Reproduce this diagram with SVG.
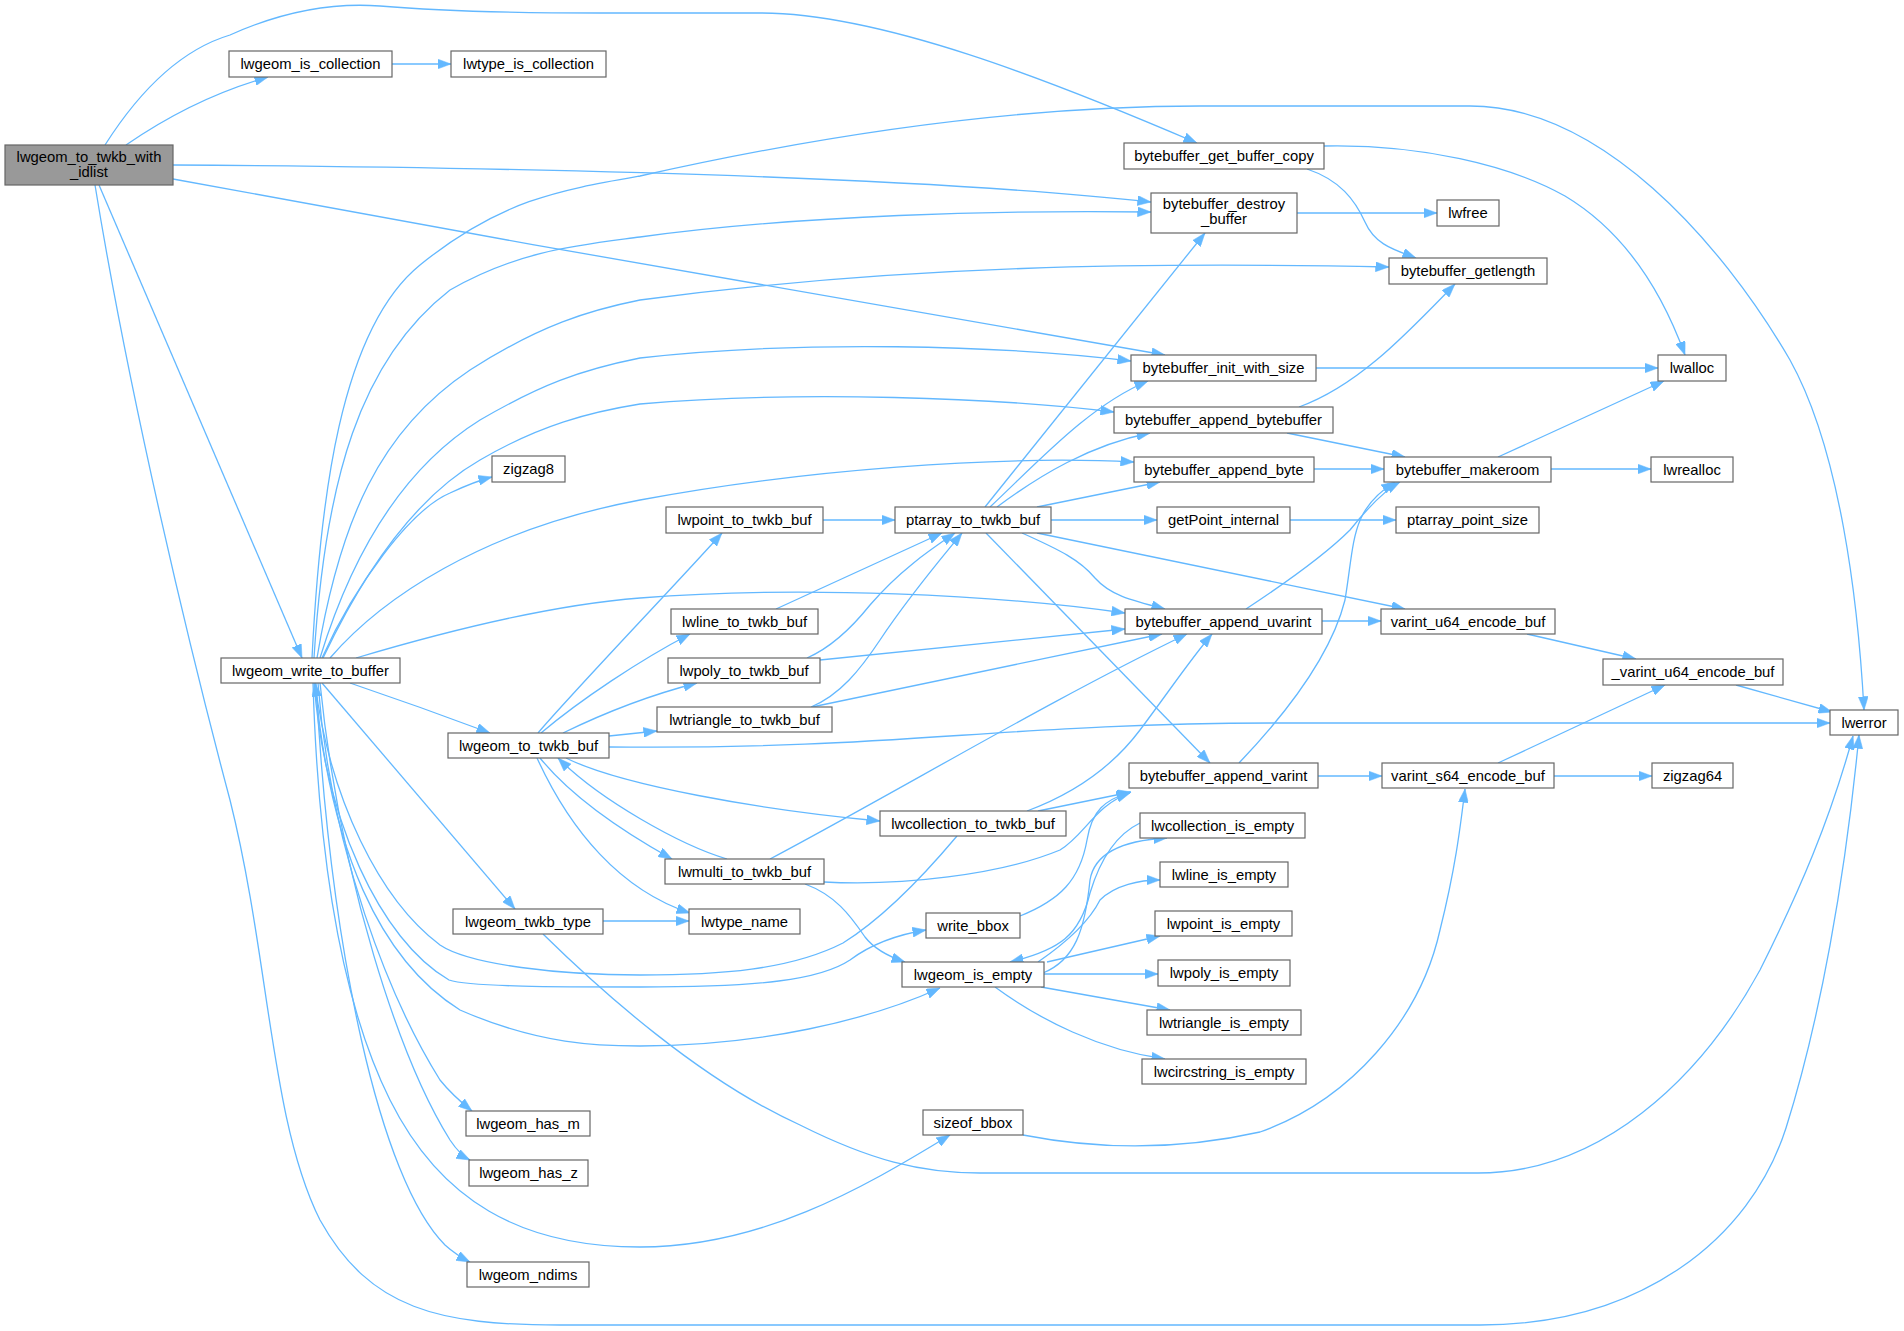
<svg xmlns="http://www.w3.org/2000/svg" width="1904" height="1331" viewBox="0 0 1904 1331">
<style>
.n rect{fill:#ffffff;stroke:#666666;stroke-width:1.2}
.n.main rect{fill:#999999}
.n text{font-family:"Liberation Sans",Arial,sans-serif;font-size:14.8px;fill:#000000;text-anchor:middle}
.e path{fill:none;stroke:#63b8ff;stroke-width:1.3;marker-end:url(#ah)}
</style>
<defs>
<marker id="ah" markerUnits="userSpaceOnUse" markerWidth="14" markerHeight="10" refX="13.5" refY="5" orient="auto">
<path d="M0,0 L13.5,5 L0,10 z" fill="#63b8ff" stroke="#63b8ff" stroke-width="0.5"/>
</marker>
</defs>
<rect width="1904" height="1331" fill="#ffffff"/>
<g id="edges" class="e">
<path d="M126,145 C165,118 215,92 268,77"/>
<path d="M392,64 L451,64"/>
<path d="M105,145 C140,90 180,50 230,35 C290,8 340,3 380,6 C450,12 520,13 600,13 L760,13 C880,13 1050,80 1197,143"/>
<path d="M173,165 C600,168 950,180 1151,202"/>
<path d="M173,179 C500,240 900,310 1165,355"/>
<path d="M99,185 L302,658"/>
<path d="M95,185 C130,400 190,650 230,800 C270,960 270,1120 320,1220 C370,1310 440,1325 560,1325 L1480,1325 C1640,1325 1750,1240 1786,1128 C1820,1020 1845,880 1859,735"/>
<path d="M543,934 C600,990 700,1080 800,1125 C870,1160 920,1173 980,1173 L1478,1173 C1600,1173 1700,1080 1760,970 C1800,890 1830,820 1853,736"/>
<path d="M312,658 C320,500 340,330 420,265 C500,200 560,190 640,176 C800,140 1000,106 1200,106 L1470,106 C1600,106 1720,240 1790,360 C1840,450 1858,600 1864,710"/>
<path d="M314,658 C325,480 360,360 450,290 C520,250 580,245 640,237 C800,215 1000,210 1151,212"/>
<path d="M317,658 C340,520 380,430 470,370 C540,325 590,310 640,300 C900,265 1150,262 1389,267"/>
<path d="M320,658 C350,560 400,470 480,420 C540,385 580,370 640,358 C800,340 1000,345 1131,361"/>
<path d="M323,658 C360,580 410,500 480,460 C540,425 590,412 640,404 C800,390 1000,398 1114,412"/>
<path d="M322,658 C355,585 410,510 450,493 C465,486 480,480 492,477"/>
<path d="M330,658 C380,600 480,530 640,500 C800,470 1000,455 1134,462"/>
<path d="M356,658 C450,630 550,605 640,598 C800,585 1000,595 1125,613"/>
<path d="M350,683 C400,700 450,718 490,733"/>
<path d="M322,683 L515,909"/>
<path d="M318,683 C330,850 390,1000 440,1080 C452,1095 462,1103 472,1111"/>
<path d="M320,683 C340,880 400,1060 450,1140 C458,1152 464,1157 470,1160"/>
<path d="M316,683 C330,950 380,1180 445,1245 C455,1254 462,1258 470,1262"/>
<path d="M313,683 C318,850 340,1000 390,1100 C440,1200 520,1247 640,1247 C760,1247 860,1190 950,1135"/>
<path d="M315,683 C330,850 380,960 460,1010 C540,1045 600,1046 640,1046 C760,1046 870,1020 940,988"/>
<path d="M314,683 C325,820 380,940 449,980 C470,987 560,987 640,987 C760,987 820,980 850,960 C870,945 895,935 926,930"/>
<path d="M957,836 C920,880 880,920 843,943 C790,970 720,975 640,975 C560,975 470,965 440,945 C380,900 330,800 315,683"/>
<path d="M538,733 C570,695 680,580 722,533"/>
<path d="M541,733 C580,700 640,660 690,634"/>
<path d="M563,733 C600,715 650,695 697,683"/>
<path d="M609,736 L657,731"/>
<path d="M609,747 C900,750 1000,723 1280,723 L1830,723"/>
<path d="M566,758 C620,785 760,810 880,821"/>
<path d="M727,859 C680,845 600,800 558,758"/>
<path d="M540,758 C570,795 620,830 672,859"/>
<path d="M537,758 C570,830 620,890 690,913"/>
<path d="M603,921 L689,921"/>
<path d="M823,520 L895,520"/>
<path d="M776,609 L942,533"/>
<path d="M807,658 C830,648 850,630 870,605 C900,570 930,550 955,533"/>
<path d="M811,707 C840,695 860,670 880,640 C910,595 940,560 962,533"/>
<path d="M820,660 L1125,629"/>
<path d="M812,707 L1162,634"/>
<path d="M985,507 L1205,233"/>
<path d="M990,507 C1040,460 1090,405 1148,381"/>
<path d="M997,507 C1040,475 1090,445 1150,433"/>
<path d="M1037,507 L1160,482"/>
<path d="M1051,520 L1157,520"/>
<path d="M1022,533 C1060,550 1080,560 1095,578 C1110,595 1130,600 1165,609"/>
<path d="M1037,533 L1405,609"/>
<path d="M986,533 L1210,763"/>
<path d="M1290,520 L1396,520"/>
<path d="M1314,469 L1384,469"/>
<path d="M1287,433 L1405,457"/>
<path d="M1299,407 C1360,385 1410,330 1455,284"/>
<path d="M1498,457 L1664,381"/>
<path d="M1551,469 L1651,469"/>
<path d="M1316,368 L1658,368"/>
<path d="M1324,146 C1420,144 1510,165 1565,196 C1630,235 1665,300 1685,355"/>
<path d="M1307,169 C1340,180 1355,200 1365,222 C1375,245 1395,250 1416,258"/>
<path d="M1297,213 L1437,213"/>
<path d="M1246,609 C1290,580 1330,550 1350,530 C1370,505 1385,490 1400,482"/>
<path d="M1322,621 L1381,621"/>
<path d="M1239,763 C1280,720 1330,660 1345,600 C1355,540 1350,510 1395,482"/>
<path d="M1318,776 L1382,776"/>
<path d="M1527,634 L1636,659"/>
<path d="M1736,685 L1832,712"/>
<path d="M1498,763 L1665,685"/>
<path d="M1554,776 L1652,776"/>
<path d="M1023,1135 C1100,1150 1180,1150 1260,1132 C1350,1100 1420,1020 1440,930 C1455,870 1460,830 1465,789"/>
<path d="M1020,916 C1060,900 1080,880 1087,840 C1092,810 1105,800 1130,792"/>
<path d="M1027,811 C1070,795 1110,770 1140,730 C1170,690 1190,660 1212,634"/>
<path d="M1038,811 L1131,792"/>
<path d="M770,859 C900,790 1050,700 1187,634"/>
<path d="M824,882 C900,886 1000,875 1060,850 C1085,835 1095,805 1130,793"/>
<path d="M805,884 C835,895 850,915 865,937 C875,950 890,957 905,962"/>
<path d="M1140,823 C1115,835 1100,860 1090,893 C1080,935 1060,950 1010,962"/>
<path d="M1043,973 C1075,960 1085,930 1090,880 C1095,850 1130,840 1167,838"/>
<path d="M1038,962 C1070,940 1090,920 1100,900 C1115,885 1140,880 1160,880"/>
<path d="M1047,962 L1160,936"/>
<path d="M1044,974 L1158,974"/>
<path d="M1041,987 L1170,1010"/>
<path d="M995,987 C1040,1020 1100,1050 1165,1059"/>
</g>
<g id="node0" class="n main"><rect x="5" y="145" width="168" height="40"/><text x="89" y="162">lwgeom_to_twkb_with</text><text x="89" y="177">_idlist</text></g>
<g id="node1" class="n"><rect x="229" y="51" width="163" height="26"/><text x="310.5" y="69">lwgeom_is_collection</text></g>
<g id="node2" class="n"><rect x="451" y="51" width="155" height="26"/><text x="528.5" y="69">lwtype_is_collection</text></g>
<g id="node3" class="n"><rect x="1124" y="143" width="200" height="26"/><text x="1224" y="161">bytebuffer_get_buffer_copy</text></g>
<g id="node4" class="n"><rect x="1151" y="193" width="146" height="40"/><text x="1224" y="209">bytebuffer_destroy</text><text x="1224" y="224">_buffer</text></g>
<g id="node5" class="n"><rect x="1437" y="200" width="62" height="26"/><text x="1468" y="218">lwfree</text></g>
<g id="node6" class="n"><rect x="1389" y="258" width="158" height="26"/><text x="1468" y="276">bytebuffer_getlength</text></g>
<g id="node7" class="n"><rect x="1131" y="355" width="185" height="26"/><text x="1223.5" y="373">bytebuffer_init_with_size</text></g>
<g id="node8" class="n"><rect x="1658" y="355" width="68" height="26"/><text x="1692" y="373">lwalloc</text></g>
<g id="node9" class="n"><rect x="1114" y="407" width="219" height="26"/><text x="1223.5" y="425">bytebuffer_append_bytebuffer</text></g>
<g id="node10" class="n"><rect x="492" y="456" width="73" height="26"/><text x="528.5" y="474">zigzag8</text></g>
<g id="node11" class="n"><rect x="1134" y="457" width="180" height="25"/><text x="1224" y="474.5">bytebuffer_append_byte</text></g>
<g id="node12" class="n"><rect x="1384" y="457" width="167" height="25"/><text x="1467.5" y="474.5">bytebuffer_makeroom</text></g>
<g id="node13" class="n"><rect x="1651" y="457" width="82" height="25"/><text x="1692" y="474.5">lwrealloc</text></g>
<g id="node14" class="n"><rect x="666" y="507" width="157" height="26"/><text x="744.5" y="525">lwpoint_to_twkb_buf</text></g>
<g id="node15" class="n"><rect x="895" y="507" width="156" height="26"/><text x="973" y="525">ptarray_to_twkb_buf</text></g>
<g id="node16" class="n"><rect x="1157" y="507" width="133" height="26"/><text x="1223.5" y="525">getPoint_internal</text></g>
<g id="node17" class="n"><rect x="1396" y="507" width="143" height="26"/><text x="1467.5" y="525">ptarray_point_size</text></g>
<g id="node18" class="n"><rect x="671" y="609" width="147" height="25"/><text x="744.5" y="626.5">lwline_to_twkb_buf</text></g>
<g id="node19" class="n"><rect x="1125" y="609" width="197" height="25"/><text x="1223.5" y="626.5">bytebuffer_append_uvarint</text></g>
<g id="node20" class="n"><rect x="1381" y="609" width="174" height="25"/><text x="1468" y="626.5">varint_u64_encode_buf</text></g>
<g id="node21" class="n"><rect x="221" y="658" width="179" height="25"/><text x="310.5" y="675.5">lwgeom_write_to_buffer</text></g>
<g id="node22" class="n"><rect x="668" y="658" width="152" height="25"/><text x="744" y="675.5">lwpoly_to_twkb_buf</text></g>
<g id="node23" class="n"><rect x="1603" y="659" width="180" height="26"/><text x="1693" y="677">_varint_u64_encode_buf</text></g>
<g id="node24" class="n"><rect x="657" y="707" width="175" height="25"/><text x="744.5" y="724.5">lwtriangle_to_twkb_buf</text></g>
<g id="node25" class="n"><rect x="1830" y="710" width="68" height="25"/><text x="1864" y="727.5">lwerror</text></g>
<g id="node26" class="n"><rect x="448" y="733" width="161" height="25"/><text x="528.5" y="750.5">lwgeom_to_twkb_buf</text></g>
<g id="node27" class="n"><rect x="1129" y="763" width="189" height="25"/><text x="1223.5" y="780.5">bytebuffer_append_varint</text></g>
<g id="node28" class="n"><rect x="1382" y="763" width="172" height="25"/><text x="1468" y="780.5">varint_s64_encode_buf</text></g>
<g id="node29" class="n"><rect x="1652" y="763" width="81" height="25"/><text x="1692.5" y="780.5">zigzag64</text></g>
<g id="node30" class="n"><rect x="880" y="811" width="186" height="25"/><text x="973" y="828.5">lwcollection_to_twkb_buf</text></g>
<g id="node31" class="n"><rect x="1140" y="813" width="165" height="25"/><text x="1222.5" y="830.5">lwcollection_is_empty</text></g>
<g id="node32" class="n"><rect x="665" y="859" width="159" height="25"/><text x="744.5" y="876.5">lwmulti_to_twkb_buf</text></g>
<g id="node33" class="n"><rect x="1160" y="862" width="128" height="25"/><text x="1224" y="879.5">lwline_is_empty</text></g>
<g id="node34" class="n"><rect x="453" y="909" width="150" height="25"/><text x="528" y="926.5">lwgeom_twkb_type</text></g>
<g id="node35" class="n"><rect x="689" y="909" width="111" height="25"/><text x="744.5" y="926.5">lwtype_name</text></g>
<g id="node36" class="n"><rect x="1155" y="911" width="137" height="25"/><text x="1223.5" y="928.5">lwpoint_is_empty</text></g>
<g id="node37" class="n"><rect x="926" y="913" width="94" height="25"/><text x="973" y="930.5">write_bbox</text></g>
<g id="node38" class="n"><rect x="902" y="962" width="142" height="25"/><text x="973" y="979.5">lwgeom_is_empty</text></g>
<g id="node39" class="n"><rect x="1158" y="960" width="132" height="26"/><text x="1224" y="978">lwpoly_is_empty</text></g>
<g id="node40" class="n"><rect x="1147" y="1010" width="154" height="25"/><text x="1224" y="1027.5">lwtriangle_is_empty</text></g>
<g id="node41" class="n"><rect x="1142" y="1059" width="164" height="25"/><text x="1224" y="1076.5">lwcircstring_is_empty</text></g>
<g id="node42" class="n"><rect x="466" y="1111" width="124" height="25"/><text x="528" y="1128.5">lwgeom_has_m</text></g>
<g id="node43" class="n"><rect x="923" y="1110" width="100" height="25"/><text x="973" y="1127.5">sizeof_bbox</text></g>
<g id="node44" class="n"><rect x="469" y="1160" width="119" height="26"/><text x="528.5" y="1178">lwgeom_has_z</text></g>
<g id="node45" class="n"><rect x="467" y="1262" width="122" height="25"/><text x="528" y="1279.5">lwgeom_ndims</text></g>
</svg>
